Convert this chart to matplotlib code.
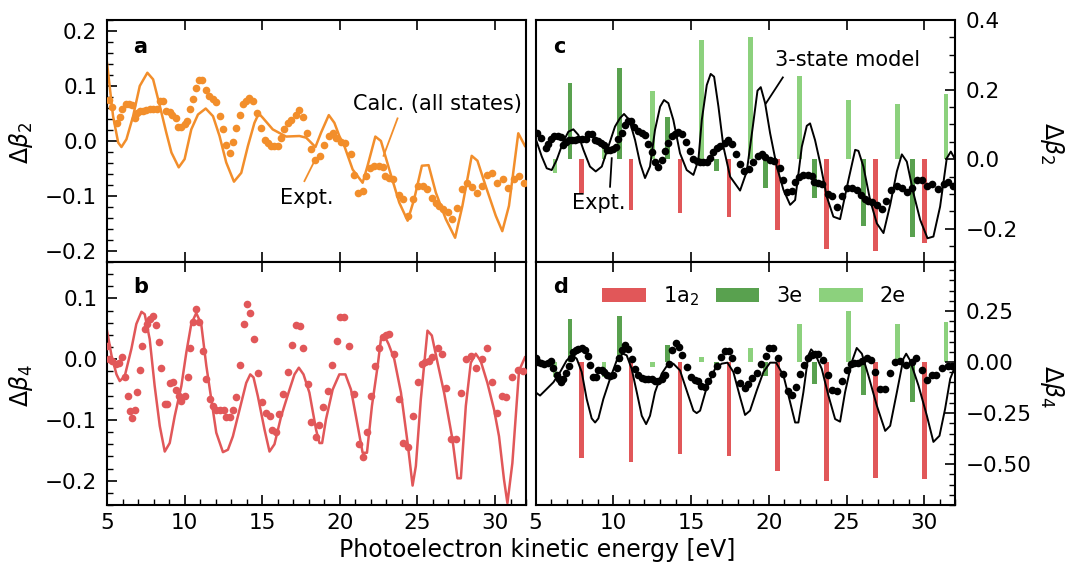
import matplotlib
matplotlib.use('Agg')
import matplotlib.pyplot as plt
from matplotlib.ticker import MultipleLocator, AutoMinorLocator

# ---------------- data ----------------
# experimental Delta beta_2 (panels a and c)
b2_x = [5.12, 5.35, 5.65, 5.82, 5.99, 6.21, 6.42, 6.64, 6.79, 6.96, 7.15, 7.32, 7.54, 7.75, 7.97,
        8.22, 8.40, 8.61, 8.82, 9.04, 9.21, 9.42, 9.57, 9.79, 10.00, 10.15, 10.32, 10.54, 10.75, 10.93,
        11.14, 11.35, 11.57, 11.83, 12.04, 12.25, 12.47, 12.68, 12.90, 13.11, 13.33, 13.54, 13.75, 13.97,
        14.18, 14.40, 14.65, 14.93, 15.15, 15.36, 15.58, 15.79, 16.01, 16.22, 16.43, 16.65, 16.86, 17.18,
        17.40, 17.66, 17.87, 18.15, 18.43, 18.73, 19.01, 19.29, 19.54, 19.76, 20.08, 20.36, 20.72, 20.94,
        21.15, 21.47, 21.69, 21.94, 22.22, 22.50, 22.76, 22.93, 23.19, 23.44, 23.79, 24.09, 24.37, 24.69,
        25.01, 25.33, 25.65, 25.93, 26.19, 26.40, 26.62, 26.94, 27.26, 27.52, 27.86, 28.22, 28.55, 28.87,
        29.19, 29.51, 29.83, 30.15, 30.52, 30.86, 31.23, 31.55, 31.87]
b2_y = [0.074, 0.062, 0.032, 0.044, 0.059, 0.067, 0.068, 0.065, 0.042, 0.050, 0.055, 0.055, 0.056, 0.059, 0.059,
        0.058, 0.073, 0.073, 0.055, 0.052, 0.048, 0.042, 0.026, 0.026, 0.030, 0.036, 0.058, 0.076, 0.097, 0.110,
        0.110, 0.092, 0.082, 0.076, 0.071, 0.045, 0.021, -0.008, -0.021, -0.002, 0.024, 0.048, 0.067, 0.073,
        0.079, 0.073, 0.050, 0.024, 0.002, -0.004, -0.009, -0.009, -0.009, 0.005, 0.021, 0.033, 0.039, 0.048,
        0.056, 0.044, 0.015, -0.015, -0.035, -0.027, -0.008, 0.009, 0.015, 0.006, -0.002, -0.004, -0.024, -0.061,
        -0.094, -0.091, -0.064, -0.050, -0.045, -0.045, -0.048, -0.064, -0.067, -0.070, -0.099, -0.106, -0.136, -0.106,
        -0.082, -0.082, -0.088, -0.103, -0.113, -0.119, -0.124, -0.130, -0.142, -0.121, -0.088, -0.077, -0.083, -0.094,
        -0.082, -0.061, -0.059, -0.077, -0.070, -0.085, -0.070, -0.064, -0.076]

# experimental Delta beta_4 (panels b and d)
b4_x = [5.0, 5.14, 5.35, 5.57, 5.78, 5.99, 6.14, 6.36, 6.51, 6.64, 6.79, 6.94, 7.15, 7.28, 7.43,
        7.58, 7.75, 7.97, 8.18, 8.35, 8.50, 8.72, 8.87, 9.04, 9.25, 9.42, 9.62, 9.79, 10.00, 10.22,
        10.37, 10.54, 10.75, 10.93, 11.18, 11.40, 11.61, 11.83, 12.04, 12.25, 12.51, 12.68, 12.90, 13.11, 13.33,
        13.58, 13.80, 14.01, 14.23, 14.44, 14.72, 15.00, 15.26, 15.47, 15.64, 15.90, 16.11, 16.37, 16.65, 16.93,
        17.18, 17.44, 17.66, 17.94, 18.15, 18.47, 18.69, 18.94, 19.22, 19.50, 19.80, 20.01, 20.29, 20.57, 20.94,
        21.21, 21.47, 21.75, 22.01, 22.29, 22.54, 22.76, 22.97, 23.19, 23.51, 23.79, 24.09, 24.37, 24.69, 25.01,
        25.29, 25.50, 25.76, 25.97, 26.30, 26.57, 26.83, 27.15, 27.47, 27.80, 28.12, 28.44, 28.80, 29.19, 29.47,
        29.83, 30.15, 30.47, 30.73, 31.12, 31.50, 31.80]
b4_y = [0.021, 0.000, -0.003, -0.008, -0.007, 0.003, -0.030, -0.061, -0.085, -0.096, -0.084, -0.054, -0.018, 0.021, 0.050,
        0.058, 0.066, 0.071, 0.057, 0.028, -0.015, -0.074, -0.073, -0.040, -0.037, -0.051, -0.061, -0.069, -0.061, -0.029,
        0.018, 0.061, 0.083, 0.062, 0.014, -0.033, -0.065, -0.077, -0.084, -0.084, -0.084, -0.095, -0.095, -0.083, -0.063,
        -0.010, 0.058, 0.091, 0.076, 0.033, -0.022, -0.071, -0.088, -0.093, -0.116, -0.120, -0.091, -0.058, -0.021, 0.023,
        0.056, 0.054, 0.019, -0.041, -0.103, -0.128, -0.109, -0.078, -0.052, -0.010, 0.030, 0.069, 0.069, 0.021, -0.058,
        -0.140, -0.161, -0.120, -0.060, -0.012, 0.019, 0.036, 0.040, 0.041, 0.008, -0.065, -0.138, -0.144, -0.094, -0.037,
        -0.008, -0.004, -0.003, 0.003, 0.018, 0.008, -0.047, -0.131, -0.131, -0.055, 0.000, 0.006, -0.014, 0.000, 0.018,
        -0.037, -0.088, -0.061, -0.063, -0.029, -0.017, -0.019]

# calculation (all states), Delta beta_2 (panel a)
calc2_x = [5.0, 5.39, 5.72, 5.93, 6.25, 6.68, 7.11, 7.60, 7.97, 8.40, 8.82, 9.15, 9.62, 10.00, 10.43,
           10.86, 11.36, 11.83, 12.25, 12.68, 13.18, 13.65, 14.08, 14.50, 14.78, 15.04, 15.68, 16.54, 17.40,
           17.83, 18.43, 18.79, 19.29, 19.65, 19.97, 20.29, 20.83, 21.47, 21.79, 22.29, 22.65, 23.19, 23.83,
           24.37, 24.79, 25.29, 25.72, 26.19, 26.83, 27.43, 27.90, 28.50, 28.87, 29.40, 30.05, 30.47, 30.90,
           31.50, 31.93]
calc2_y = [0.142, 0.045, -0.003, -0.011, 0.003, 0.045, 0.100, 0.124, 0.112, 0.064, 0.015, -0.021, -0.048, -0.033, 0.021,
           0.048, 0.059, 0.045, 0.009, -0.039, -0.074, -0.058, -0.009, 0.033, 0.050, 0.042, 0.021, 0.008, 0.009,
           0.006, -0.011, 0.015, 0.047, 0.033, 0.009, -0.009, -0.052, -0.076, -0.045, 0.008, 0.000, -0.052, -0.112,
           -0.145, -0.106, -0.045, -0.044, -0.094, -0.142, -0.176, -0.118, -0.027, -0.036, -0.082, -0.136, -0.164, -0.118,
           0.014, -0.009]

# calculation (all states), Delta beta_4 (panel b)
calc4_x = [5.0, 5.29, 5.61, 5.82, 6.14, 6.57, 6.89, 7.22, 7.43, 7.75, 8.07, 8.40, 8.72, 9.04, 9.36,
           9.79, 10.11, 10.43, 10.75, 11.07, 11.40, 11.72, 12.04, 12.47, 12.79, 13.11, 13.54, 13.97, 14.23, 14.44,
           14.72, 15.15, 15.47, 15.79, 16.22, 16.76, 17.08, 17.36, 17.66, 18.04, 18.47, 18.69, 18.86, 19.11, 19.54,
           19.97, 20.36, 20.72, 21.04, 21.47, 21.75, 22.07, 22.44, 22.65, 22.87, 23.14, 23.51, 23.94, 24.37, 24.69,
           24.90, 25.22, 25.65, 25.93, 26.30, 26.72, 27.26, 27.58, 27.80, 28.12, 28.44, 28.76, 29.08, 29.51, 29.94,
           30.26, 30.58, 30.80, 31.12, 31.55, 31.93]
calc4_y = [0.047, 0.006, -0.025, -0.036, -0.028, 0.017, 0.058, 0.078, 0.074, 0.033, -0.044, -0.110, -0.152, -0.138, -0.094,
           -0.044, 0.011, 0.058, 0.076, 0.058, -0.011, -0.066, -0.121, -0.153, -0.149, -0.127, -0.083, -0.039, -0.025, -0.030,
           -0.061, -0.116, -0.152, -0.140, -0.094, -0.050, -0.025, -0.014, -0.025, -0.055, -0.116, -0.138, -0.138, -0.099, -0.050,
           -0.025, -0.025, -0.050, -0.094, -0.154, -0.154, -0.077, -0.011, 0.033, 0.039, 0.025, 0.000, -0.055, -0.138, -0.208,
           -0.176, -0.066, 0.047, 0.039, -0.006, -0.055, -0.132, -0.196, -0.196, -0.077, -0.006, 0.009, -0.003, -0.039, -0.083,
           -0.127, -0.198, -0.237, -0.171, -0.019, 0.003]

# 3-state model, Delta beta_2 (panel c)
m2_x = [5.0, 5.40, 5.72, 6.04, 6.36, 6.79, 7.11, 7.43, 7.75, 8.08, 8.50, 8.87, 9.26, 9.68, 10.11,
        10.43, 10.69, 11.03, 11.40, 11.72, 12.04, 12.36, 12.68, 13.01, 13.26, 13.54, 13.86, 14.29, 14.72, 15.15,
        15.47, 15.69, 16.01, 16.26, 16.48, 16.76, 17.08, 17.51, 18.15, 18.58, 18.97, 19.27, 19.48, 19.76, 20.08,
        20.51, 20.94, 21.37, 21.69, 22.12, 22.44, 22.65, 22.97, 23.30, 23.72, 24.15, 24.58, 25.12, 25.55, 25.76,
        26.08, 26.51, 26.94, 27.37, 27.80, 28.23, 28.55, 28.87, 29.30, 29.73, 30.20, 30.58, 31.01, 31.44, 31.70, 32.0]
m2_y = [0.060, 0.008, -0.026, -0.031, -0.002, 0.051, 0.079, 0.086, 0.070, 0.027, -0.021, -0.035, -0.021, 0.036, 0.094,
        0.118, 0.130, 0.113, 0.055, -0.011, -0.054, -0.021, 0.084, 0.151, 0.170, 0.161, 0.113, 0.017, -0.031, -0.045,
        -0.002, 0.113, 0.213, 0.245, 0.237, 0.151, 0.036, -0.050, -0.090, -0.035, 0.094, 0.197, 0.207, 0.161, 0.075,
        -0.021, -0.088, -0.131, -0.117, 0.036, 0.096, 0.103, 0.055, -0.011, -0.107, -0.165, -0.172, -0.059, 0.027, 0.024,
        -0.021, -0.117, -0.184, -0.212, -0.131, -0.035, 0.014, -0.007, -0.098, -0.174, -0.227, -0.222, -0.136, 0.003, 0.022, -0.002]

# 3-state model, Delta beta_4 (panel d)
m4_x = [5.0, 5.29, 5.61, 6.15, 6.58, 7.00, 7.39, 7.65, 7.97, 8.29, 8.61, 8.83, 9.04, 9.36, 9.79,
        10.22, 10.61, 10.86, 11.18, 11.51, 11.83, 12.11, 12.36, 12.68, 13.11, 13.54, 13.86, 14.29, 14.72, 15.15,
        15.36, 15.58, 16.01, 16.54, 16.97, 17.34, 17.72, 18.15, 18.47, 18.79, 19.22, 19.65, 20.08, 20.47, 20.94,
        21.37, 21.69, 21.90, 22.22, 22.54, 22.72, 22.97, 23.40, 23.83, 24.26, 24.58, 24.90, 25.33, 25.65, 25.98,
        26.40, 26.94, 27.48, 27.80, 28.23, 28.65, 28.83, 29.08, 29.62, 30.16, 30.58, 30.97, 31.33, 31.66, 32.0]
m4_y = [-0.148, -0.164, -0.140, -0.099, -0.049, 0.008, 0.033, 0.016, -0.049, -0.181, -0.276, -0.296, -0.276, -0.181, -0.082,
        0.008, 0.041, 0.033, -0.033, -0.148, -0.263, -0.304, -0.263, -0.148, -0.057, -0.008, -0.008, -0.041, -0.140, -0.238,
        -0.250, -0.238, -0.123, -0.033, -0.008, -0.003, -0.049, -0.172, -0.259, -0.238, -0.140, -0.049, -0.003, -0.003, -0.066,
        -0.197, -0.296, -0.296, -0.148, 0.033, 0.062, 0.041, -0.033, -0.164, -0.279, -0.292, -0.148, 0.000, 0.069, 0.041,
        -0.066, -0.213, -0.337, -0.312, -0.148, 0.016, 0.041, 0.008, -0.115, -0.263, -0.391, -0.361, -0.230, -0.082, -0.016]

# state contributions (bars)
E_1a2 = [7.97, 11.14, 14.29, 17.44, 20.57, 23.72, 26.87, 30.0]
E_3e = [7.22, 10.39, 13.50, 16.65, 19.80, 22.93, 26.08, 29.23]
E_2e = [6.25, 9.40, 12.54, 15.69, 18.84, 21.97, 25.12, 28.27, 31.40]
bar2_1a2 = [-0.096, -0.145, -0.155, -0.165, -0.203, -0.258, -0.263, -0.241]
bar2_3e = [0.218, 0.261, 0.122, -0.035, -0.083, -0.112, -0.191, -0.224]
bar2_2e = [-0.040, 0.045, 0.197, 0.341, 0.350, 0.240, 0.170, 0.159, 0.187]
bar4_1a2 = [-0.471, -0.489, -0.452, -0.460, -0.534, -0.583, -0.568, -0.571]
bar4_3e = [0.213, 0.227, 0.085, -0.030, -0.069, -0.107, -0.161, -0.197]
bar4_2e = [-0.074, -0.074, -0.022, 0.025, 0.069, 0.184, 0.250, 0.184, 0.194]
state_labels = ['1a$_2$', '3e', '2e']

# ---------------- style ----------------
ORANGE = '#f28e2b'
RED = '#e15759'
DGREEN = '#59a14f'
LGREEN = '#8cd17d'
TICK_FS = 15.5
LABEL_FS = 17
ANN_FS = 15
MS = 5.5

fig = plt.figure(figsize=(10.67, 5.70), dpi=100)
axa = fig.add_axes([0.1003, 0.5404, 0.3927, 0.4246])
axb = fig.add_axes([0.1003, 0.1140, 0.3927, 0.4264])
axc = fig.add_axes([0.5019, 0.5404, 0.3936, 0.4246])
axd = fig.add_axes([0.5019, 0.1140, 0.3936, 0.4264])


def style(ax, left_side, bottom):
    for sp in ax.spines.values():
        sp.set_linewidth(1.5)
    ax.set_xlim(5, 32)
    ax.xaxis.set_major_locator(MultipleLocator(5))
    ax.yaxis.set_minor_locator(AutoMinorLocator())
    ax.tick_params(which='both', direction='in', labelsize=TICK_FS)
    ax.tick_params(which='major', length=7, width=1.2)
    ax.tick_params(which='minor', length=4, width=1.0)
    ax.tick_params(axis='x', which='major', top=True, bottom=True,
                   labelbottom=bottom, pad=6)
    if bottom:
        ax.xaxis.set_minor_locator(MultipleLocator(1))
        ax.tick_params(axis='x', which='minor', bottom=True, top=False)
    else:
        ax.tick_params(axis='x', which='minor', bottom=False, top=False)
    if left_side:
        ax.tick_params(axis='y', which='both', left=True, right=False,
                       labelleft=True, labelright=False, pad=7)
    else:
        ax.tick_params(axis='y', which='both', left=False, right=True,
                       labelleft=False, labelright=True, pad=7)


# panel a
style(axa, True, False)
axa.plot(calc2_x, calc2_y, color=ORANGE, lw=1.8, zorder=2)
axa.plot(b2_x, b2_y, 'o', color=ORANGE, ms=MS, mew=0, zorder=3)
axa.set_ylim(-0.22, 0.22)
axa.yaxis.set_major_locator(MultipleLocator(0.1))
axa.set_ylabel(r'$\Delta\beta_2$', fontsize=LABEL_FS)
axa.yaxis.set_label_coords(-0.172, 0.49)
axa.text(0.062, 0.865, 'a', transform=axa.transAxes, fontsize=15,
         fontweight='bold', va='baseline')
axa.text(26.27, 0.067, 'Calc. (all states)', fontsize=ANN_FS, ha='center', va='center')
axa.plot([23.72, 22.82], [0.041, -0.027], color=ORANGE, lw=1.3)
axa.text(17.88, -0.104, 'Expt.', fontsize=ANN_FS, ha='center', va='center')
axa.plot([17.72, 18.43], [-0.073, -0.033], color=ORANGE, lw=1.3)

# panel b
style(axb, True, True)
axb.plot(calc4_x, calc4_y, color=RED, lw=1.8, zorder=2)
axb.plot(b4_x, b4_y, 'o', color=RED, ms=MS, mew=0, zorder=3)
axb.set_ylim(-0.24, 0.16)
axb.yaxis.set_major_locator(MultipleLocator(0.1))
axb.set_ylabel(r'$\Delta\beta_4$', fontsize=LABEL_FS)
axb.yaxis.set_label_coords(-0.172, 0.49)
axb.text(0.062, 0.871, 'b', transform=axb.transAxes, fontsize=15,
         fontweight='bold', va='baseline')

# panel c
style(axc, False, False)
W = 0.3
axc.bar(E_1a2, bar2_1a2, width=W, color=RED, zorder=1)
axc.bar(E_3e, bar2_3e, width=W, color=DGREEN, zorder=1)
axc.bar(E_2e, bar2_2e, width=W, color=LGREEN, zorder=1)
axc.plot(m2_x, m2_y, color='black', lw=1.4, zorder=2)
axc.plot(b2_x, b2_y, 'o', color='black', ms=MS, mew=0, zorder=3)
axc.set_ylim(-0.295, 0.40)
axc.yaxis.set_major_locator(MultipleLocator(0.2))
axc.yaxis.set_label_position('right')
axc.set_ylabel(r'$\Delta\beta_2$', fontsize=LABEL_FS, rotation=270, va='bottom')
axc.yaxis.set_label_coords(1.196, 0.49)
axc.text(0.042, 0.864, 'c', transform=axc.transAxes, fontsize=15,
         fontweight='bold', va='baseline')
axc.text(25.06, 0.285, '3-state model', fontsize=ANN_FS, ha='center', va='center')
axc.plot([20.9, 19.82], [0.235, 0.161], color='black', lw=1.3)
axc.text(9.08, -0.127, 'Expt.', fontsize=ANN_FS, ha='center', va='center')
axc.plot([9.79, 9.9], [-0.079, 0.003], color='black', lw=1.3)

# panel d
style(axd, False, True)
h1 = axd.bar(E_1a2, bar4_1a2, width=W, color=RED, zorder=1, label=state_labels[0])
h2 = axd.bar(E_3e, bar4_3e, width=W, color=DGREEN, zorder=1, label=state_labels[1])
h3 = axd.bar(E_2e, bar4_2e, width=W, color=LGREEN, zorder=1, label=state_labels[2])
axd.plot(m4_x, m4_y, color='black', lw=1.4, zorder=2)
axd.plot(b4_x, b4_y, 'o', color='black', ms=MS, mew=0, zorder=3)
axd.set_ylim(-0.70, 0.49)
axd.yaxis.set_major_locator(MultipleLocator(0.25))
axd.yaxis.set_label_position('right')
axd.set_ylabel(r'$\Delta\beta_4$', fontsize=LABEL_FS, rotation=270, va='bottom')
axd.yaxis.set_label_coords(1.196, 0.49)
axd.text(0.042, 0.871, 'd', transform=axd.transAxes, fontsize=15,
         fontweight='bold', va='baseline')
axd.legend(handles=[h1, h2, h3], loc='center', bbox_to_anchor=(0.52, 0.86),
           ncol=3, frameon=False, fontsize=ANN_FS, handlelength=2.1,
           handleheight=0.7, handletextpad=0.8, columnspacing=0.8)

fig.text(0.503, 0.035, 'Photoelectron kinetic energy [eV]', ha='center',
         va='center', fontsize=LABEL_FS)

fig.savefig('out.png', dpi=100)
